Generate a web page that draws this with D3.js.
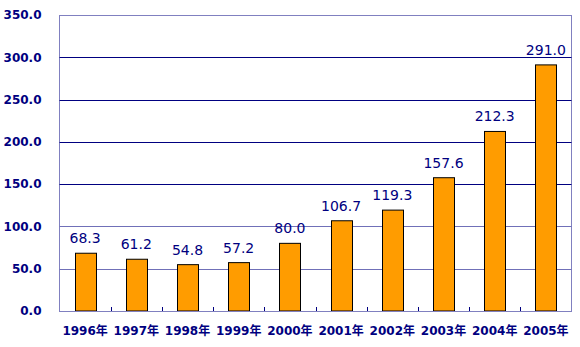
<!DOCTYPE html>
<html>
<head>
<meta charset="utf-8">
<script src="https://cdn.jsdelivr.net/npm/d3@7/dist/d3.min.js"></script>
<style>
  html, body { margin: 0; padding: 0; background: #fff; }
  svg { display: block; }
</style>
</head>
<body>
<svg id="chart" width="580" height="347"></svg>
<script>
// Annual values, 1996–2005
const years = ["1996年", "1997年", "1998年", "1999年", "2000年", "2001年", "2002年", "2003年", "2004年", "2005年"];
const values = [68.3, 61.2, 54.8, 57.2, 80.0, 106.7, 119.3, 157.6, 212.3, 291.0];
const yTicks = [0, 50, 100, 150, 200, 250, 300, 350];

const svg = d3.select("#chart");
const plotLeft = 59.5, plotRight = 571.5, plotTop = 15, plotBottom = 311;
const navy = "#000080";
const frame = "#8080c0";

const x = d3.scaleBand().domain(years).range([plotLeft, plotRight])
  .paddingInner(0.59).paddingOuter(0.295);
const y = d3.scaleLinear().domain([0, 350]).range([plotBottom, plotTop]);

// plot frame
svg.append("rect")
  .attr("x", plotLeft).attr("y", Math.round(y(350)) + 0.5)
  .attr("width", plotRight - plotLeft).attr("height", plotBottom - Math.round(y(350)))
  .attr("fill", "none").attr("stroke", frame).attr("stroke-width", 1);

// horizontal gridlines
svg.append("g").selectAll("line")
  .data(yTicks.filter(d => d > 0 && d < 350))
  .join("line")
  .attr("x1", plotLeft).attr("x2", plotRight)
  .attr("y1", d => Math.round(y(d)) + 0.5).attr("y2", d => Math.round(y(d)) + 0.5)
  .attr("stroke", d => d >= 150 ? navy : "#7070b8")
  .attr("stroke-width", 1);

// y-axis labels
const yAxis = d3.axisLeft(y).tickValues(yTicks).tickFormat(d3.format(".1f")).tickSize(0).tickPadding(18);
svg.append("g")
  .attr("transform", `translate(${plotLeft},0)`)
  .call(yAxis)
  .call(g => g.select(".domain").remove())
  .selectAll("text")
  .attr("fill", navy)
  .style("font-family", "'DejaVu Sans', Verdana, sans-serif")
  .style("font-weight", "bold")
  .style("font-size", "12px");

// bars
svg.append("g").selectAll("rect")
  .data(years)
  .join("rect")
  .attr("x", d => Math.round(x(d)) + 0.5)
  .attr("y", (d, i) => y(values[i]))
  .attr("width", Math.round(x.bandwidth()))
  .attr("height", (d, i) => plotBottom - y(values[i]))
  .attr("fill", "#ff9c00")
  .attr("stroke", "#000")
  .attr("stroke-width", 1);

// baseline and category separators
svg.append("line")
  .attr("x1", plotLeft).attr("x2", plotRight)
  .attr("y1", plotBottom + 0.5).attr("y2", plotBottom + 0.5)
  .attr("stroke", frame);
svg.append("g").selectAll("line")
  .data(years.slice(1))
  .join("line")
  .attr("x1", d => Math.round(x(d) - x.step() * x.paddingInner() / 2) + 0.5)
  .attr("x2", d => Math.round(x(d) - x.step() * x.paddingInner() / 2) + 0.5)
  .attr("y1", plotBottom).attr("y2", plotBottom - 4)
  .attr("stroke", navy);

// x-axis labels
const xAxis = d3.axisBottom(x).tickSize(0).tickPadding(15);
svg.append("g")
  .attr("transform", `translate(0,${plotBottom})`)
  .call(xAxis)
  .call(g => g.select(".domain").remove())
  .selectAll("text")
  .attr("fill", navy)
  .style("font-family", "'DejaVu Sans', Verdana, 'Noto Sans CJK SC', sans-serif")
  .style("font-weight", "bold")
  .style("font-size", "12px");

// value labels
svg.append("g").selectAll("text")
  .data(years)
  .join("text")
  .attr("x", d => x(d) + x.bandwidth() / 2)
  .attr("y", (d, i) => y(values[i]) - 10)
  .attr("text-anchor", "middle")
  .attr("fill", navy)
  .style("font-family", "'DejaVu Sans', Verdana, sans-serif")
  .style("font-size", "14px")
  .text((d, i) => values[i].toFixed(1));
</script>
</body>
</html>
